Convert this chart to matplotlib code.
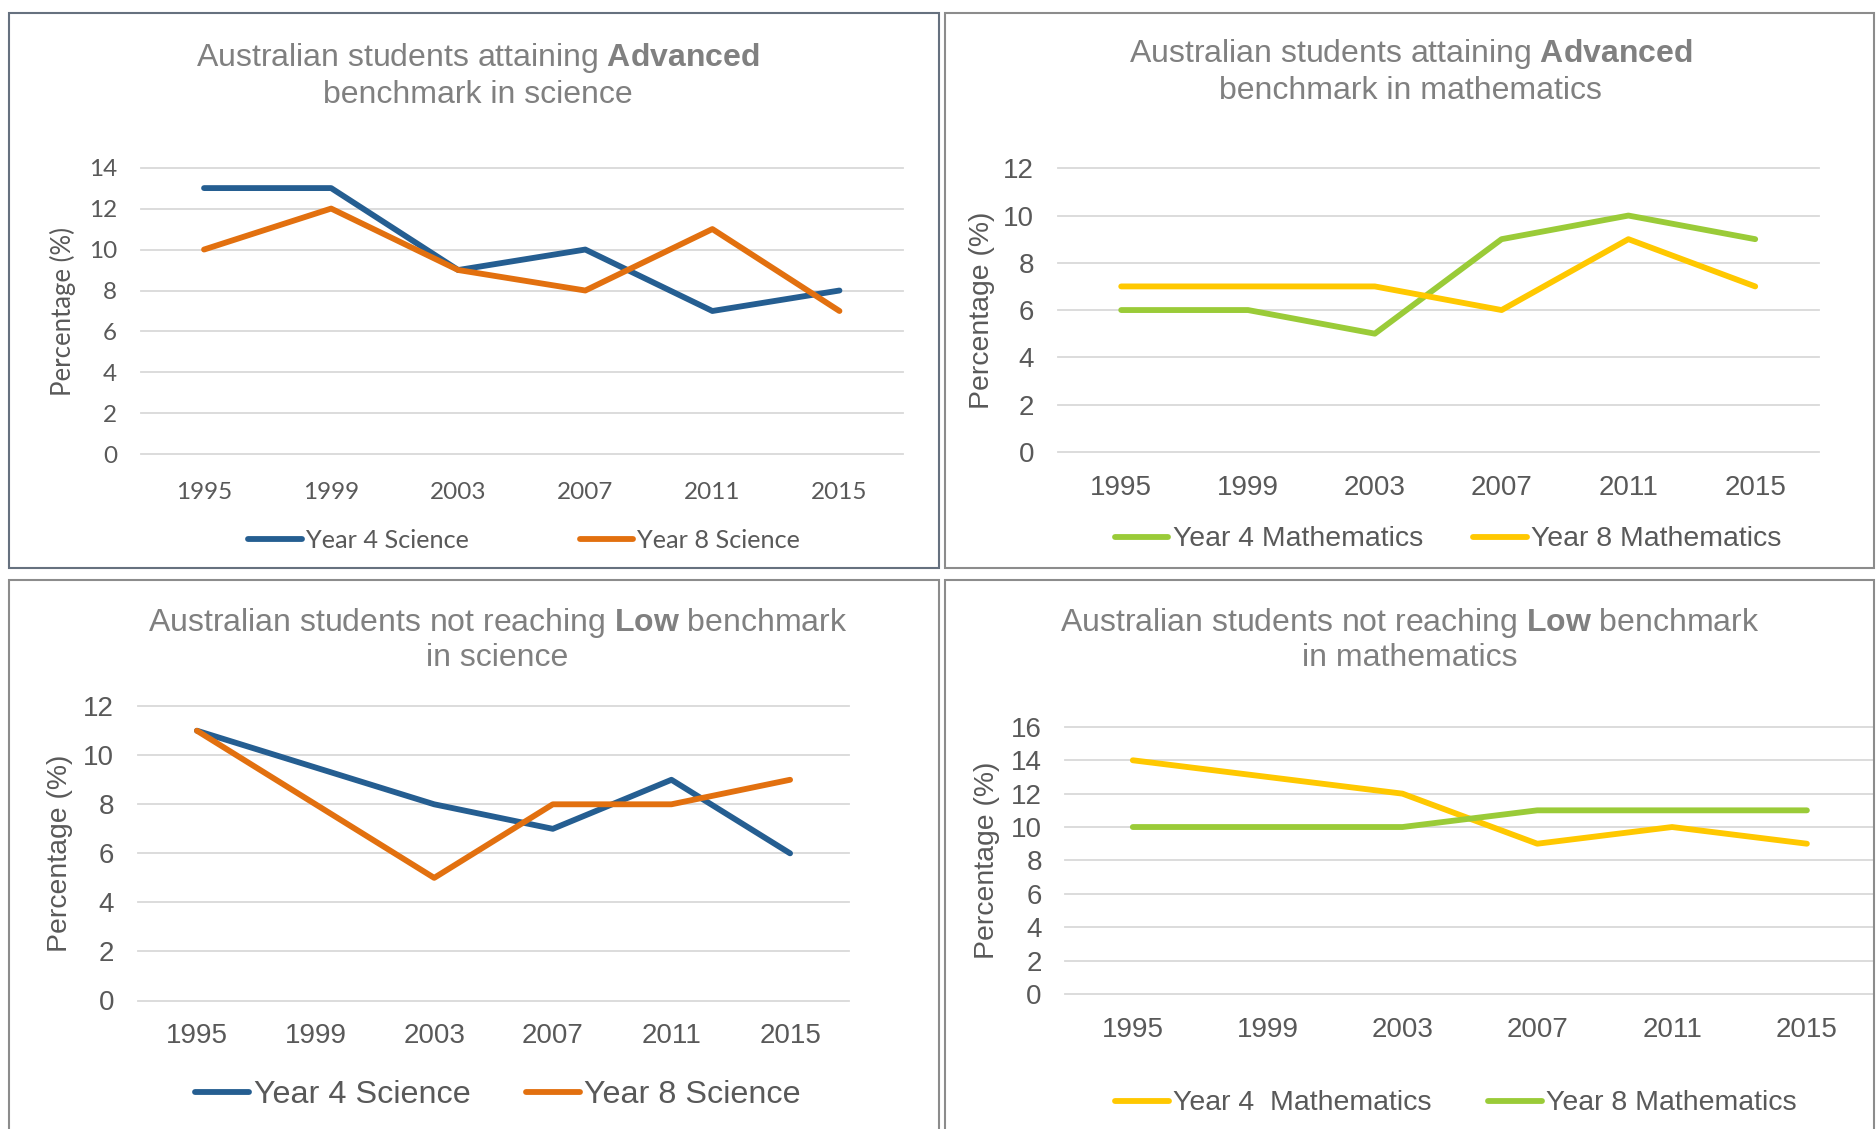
import matplotlib
matplotlib.use("Agg")
import matplotlib.pyplot as plt
from matplotlib.patches import Rectangle

W, H = 1876, 1129

years = ["1995", "1999", "2003", "2007", "2011", "2015"]

# advanced benchmark
sci_adv_y4 = [13, 13, 9, 10, 7, 8]
sci_adv_y8 = [10, 12, 9, 8, 11, 7]
math_adv_y4 = [6, 6, 5, 9, 10, 9]
math_adv_y8 = [7, 7, 7, 6, 9, 7]

# not reaching low benchmark
sci_low_y4 = [11, 9.5, 8, 7, 9, 6]
sci_low_y8 = [11, 8, 5, 8, 8, 9]
math_low_y4 = [14, 13, 12, 9, 10, 9]
math_low_y8 = [10, 10, 10, 11, 11, 11]

BLUE = "#255E91"
ORANGE = "#E2700F"
GREEN = "#9ACB38"
YELLOW = "#FFC800"
GRID = "#D9D9D9"
TXT = "#595959"
TITLE = "#808080"

ARIAL = "Liberation Sans"
CALIBRI = "Lato"

plt.rcParams["mathtext.fontset"] = "custom"
plt.rcParams["mathtext.rm"] = ARIAL
plt.rcParams["mathtext.bf"] = ARIAL + ":bold"

fig = plt.figure(figsize=(W / 100, H / 100), dpi=100)


def fx(x):
    return x / W


def fy(y):
    return 1 - y / H


def box(x0, y0, x1, y1, color):
    fig.add_artist(Rectangle((fx(x0), fy(y1)), fx(x1) - fx(x0), fy(y0) - fy(y1),
                             transform=fig.transFigure, fill=False,
                             edgecolor=color, lw=1.5))


def panel(pos, ymax, series, title, title_xy, ylab_xy, leg_xy, font,
          tick_fs, lab_fs, leg_fs, hlen, colgap, title_fs=23, xpad=16.5):
    left, right, top, bottom = pos
    ax = fig.add_axes([fx(left), fy(bottom), fx(right) - fx(left), fy(top) - fy(bottom)])
    x = list(range(len(years)))
    for vals, color, label in series:
        ax.plot(x, vals, color=color, lw=4.2, label=label, solid_capstyle="round",
                solid_joinstyle="round", clip_on=False, zorder=3)
    ax.set_xlim(-0.5, len(years) - 0.5)
    ax.set_ylim(0, ymax)
    ax.set_yticks(range(0, ymax + 1, 2))
    ax.set_xticks(x)
    ax.set_xticklabels(years)
    ax.yaxis.grid(True, color=GRID, lw=1.3)
    for gl in ax.get_ygridlines():
        gl.set_clip_on(False)
    for s in ax.spines.values():
        s.set_visible(False)
    ax.tick_params(axis="y", length=0, colors=TXT, labelsize=tick_fs, pad=17)
    ax.tick_params(axis="x", length=0, colors=TXT, labelsize=tick_fs, pad=xpad)
    for lab in ax.get_xticklabels() + ax.get_yticklabels():
        lab.set_fontfamily(font)

    # title, two centred lines
    tx, ty1, ty2 = title_xy
    fig.text(fx(tx), fy(ty1), title[0], ha="center", va="center",
             fontsize=title_fs, color=TITLE, family=ARIAL)
    fig.text(fx(tx), fy(ty2), title[1], ha="center", va="center",
             fontsize=title_fs, color=TITLE, family=ARIAL)

    fig.text(fx(ylab_xy[0]), fy(ylab_xy[1]), "Percentage (%)", rotation=90,
             ha="center", va="center", fontsize=lab_fs, color=TXT, family=font)

    ax.legend(loc="center", bbox_to_anchor=(fx(leg_xy[0]), fy(leg_xy[1])),
              bbox_transform=fig.transFigure, ncol=2, frameon=False,
              prop={"family": font, "size": leg_fs}, labelcolor=TXT,
              handlelength=hlen, handletextpad=0.15, columnspacing=colgap)
    return ax


# panel frames
box(9, 13, 939, 568, "#66717F")
box(945, 13, 1874, 568, "#8C8C8C")
box(9, 580, 939, 1140, "#8C8C8C")
box(945, 580, 1874, 1140, "#8C8C8C")

panel((140.5, 903, 167.6, 454.4), 14,
      [(sci_adv_y4, BLUE, "Year 4 Science"), (sci_adv_y8, ORANGE, "Year 8 Science")],
      ["Australian students attaining $\\mathbf{Advanced}$", "benchmark in science"],
      (478, 58, 95), (63, 311), (524, 540), CALIBRI,
      17.5, 18.5, 18.2, 2.13, 4.4, xpad=20)

panel((1057.8, 1818.6, 168.3, 451.8), 12,
      [(math_adv_y4, GREEN, "Year 4 Mathematics"), (math_adv_y8, YELLOW, "Year 8 Mathematics")],
      ["Australian students attaining $\\mathbf{Advanced}$", "benchmark in mathematics"],
      (1410.5, 54, 91), (982, 310), (1448, 539.5), ARIAL,
      20, 20.4, 20.4, 1.9, 1.77)

panel((137.6, 849.4, 706.2, 1000.5), 12,
      [(sci_low_y4, BLUE, "Year 4 Science"), (sci_low_y8, ORANGE, "Year 8 Science")],
      ["Australian students not reaching $\\mathbf{Low}$ benchmark", "in science"],
      (497.5, 622.5, 658), (60, 853), (498, 1095), ARIAL,
      20, 20.4, 23.3, 1.67, 1.7)

panel((1065.4, 1874.3, 726.9, 993.9), 16,
      [(math_low_y4, YELLOW, "Year 4  Mathematics"), (math_low_y8, GREEN, "Year 8 Mathematics")],
      ["Australian students not reaching $\\mathbf{Low}$ benchmark", "in mathematics"],
      (1410, 622.5, 658), (987, 860.5), (1456, 1103.5), ARIAL,
      20, 20.4, 20.5, 1.9, 1.97)

fig.savefig("out.png", dpi=100)
